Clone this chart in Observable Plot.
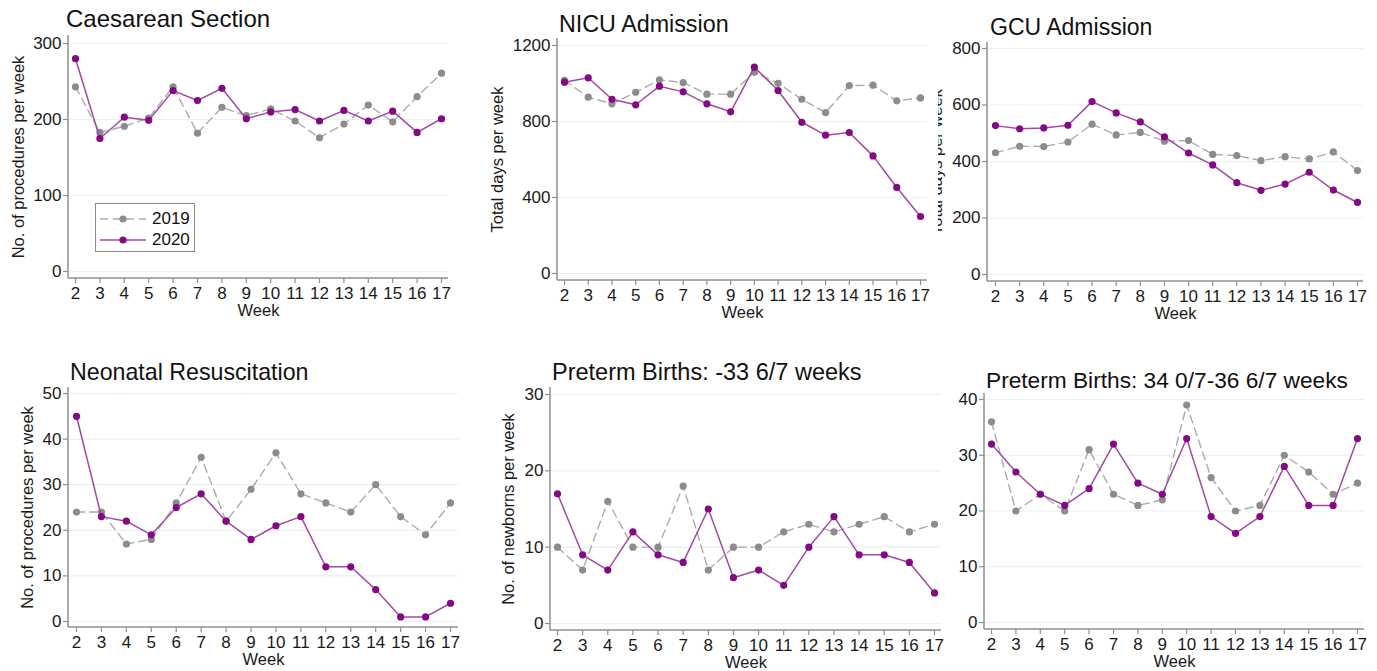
<!DOCTYPE html>
<html>
<head>
<meta charset="utf-8">
<script src="https://cdn.jsdelivr.net/npm/d3@7"></script>
<script src="https://cdn.jsdelivr.net/npm/@observablehq/plot@0.6"></script>
<style>
  html, body { margin: 0; padding: 0; background: #fff; }
  #page { position: relative; width: 1377px; height: 671px; overflow: hidden; background: #fff; font-family: "Liberation Sans", Arial, Helvetica, sans-serif; }
  .title { position: absolute; line-height: 24px; color: #111; white-space: nowrap; z-index: 5; }
  .legend { position: absolute; border: 1.5px solid #8a8a8a; background: #fff; z-index: 6; box-sizing: border-box; }
  .legend .row { position: absolute; left: 0; height: 20px; display: flex; align-items: center; font-size: 17px; color: #111; }
</style>
</head>
<body>
<div id="page"></div>
<script>
// ---------- data ----------
const weeks = [2,3,4,5,6,7,8,9,10,11,12,13,14,15,16,17];
const years = ["2019", "2020"];

const caes2019 = [243,183,191,202,243,182,216,205,214,198,176,194,219,197,230,261];
const caes2020 = [280,175,203,199,238,225,241,201,210,213,198,212,198,211,183,201];

const nicu2019 = [1017,928,893,954,1019,1005,944,944,1059,1001,917,847,989,991,909,924];
const nicu2020 = [1007,1030,917,888,986,956,893,851,1086,963,796,728,742,619,453,300];

const gcu2019 = [431,454,453,469,532,494,503,472,474,425,421,403,417,409,434,368];
const gcu2020 = [527,516,519,528,612,572,540,487,430,388,325,298,320,362,299,255];

const resus2019 = [24,24,17,18,26,36,22,29,37,28,26,24,30,23,19,26];
const resus2020 = [45,23,22,19,25,28,22,18,21,23,12,12,7,1,1,4];

const pt33_2019 = [10,7,16,10,10,18,7,10,10,12,13,12,13,14,12,13];
const pt33_2020 = [17,9,7,12,9,8,15,6,7,5,10,14,9,9,8,4];

const pt36_2019 = [36,20,23,20,31,23,21,22,39,26,20,21,30,27,23,25];
const pt36_2020 = [32,27,23,21,24,32,25,23,33,19,16,19,28,21,21,33];

const titles = ["Caesarean Section", "NICU Admission", "GCU Admission",
                "Neonatal Resuscitation", "Preterm Births: -33 6/7 weeks", "Preterm Births: 34 0/7-36 6/7 weeks"];
const yLabels = ["No. of procedures per week", "Total days per week", "Total days per week",
                 "No. of procedures per week", "No. of newborns per week", null];
const yTicks = [[0,100,200,300], [0,400,800,1200], [0,200,400,600,800],
                [0,10,20,30,40,50], [0,10,20,30], [0,10,20,30,40]];
const xLabel = "Week";

// ---------- styles ----------
const col2019Line = "#ababab", col2019Dot = "#8c8c8c";
const col2020Line = "#a24aa2", col2020Dot = "#820a82";
const axisCol = "#8f8f8f", gridCol = "#e9f1f1", textCol = "#1a1a1a";

const page = document.getElementById("page");

function panel(cfg) {
  const d19 = weeks.map((w, i) => ({week: w, v: cfg.s2019[i]}));
  const d20 = weeks.map((w, i) => ({week: w, v: cfg.s2020[i]}));
  const axisLines = (index, scales, values, dims) => {
    const g = d3.create("svg:g").attr("stroke", axisCol).attr("stroke-width", 1.5);
    g.append("line")
      .attr("x1", dims.marginLeft).attr("x2", dims.marginLeft)
      .attr("y1", dims.marginTop).attr("y2", dims.height - dims.marginBottom);
    g.append("line")
      .attr("x1", dims.marginLeft).attr("x2", dims.width - dims.marginRight)
      .attr("y1", dims.height - dims.marginBottom).attr("y2", dims.height - dims.marginBottom);
    return g.node();
  };
  const marks = [
    Plot.gridY(cfg.yticks, {stroke: gridCol, strokeOpacity: 1, strokeWidth: 1.2}),
    Plot.axisX(weeks, {tickSize: 5, tickPadding: 3, label: null, stroke: axisCol, fill: textCol, strokeWidth: 1.2,
      tickFormat: d => String(d)}),
    Plot.axisY(cfg.yticks, {tickSize: 5, tickPadding: 2, label: null, stroke: axisCol, fill: textCol, strokeWidth: 1.2,
      tickFormat: d => String(d)}),
    axisLines,
    Plot.line(d19, {x: "week", y: "v", stroke: col2019Line, strokeWidth: 1.4, strokeDasharray: "8,5"}),
    Plot.dot(d19, {x: "week", y: "v", fill: col2019Dot, r: 3.6}),
    Plot.line(d20, {x: "week", y: "v", stroke: col2020Line, strokeWidth: 1.5}),
    Plot.dot(d20, {x: "week", y: "v", fill: col2020Dot, r: 3.6}),
    Plot.text([xLabel], {text: d => d, frameAnchor: "bottom", dy: 32, fontSize: 16.5, fill: textCol, lineAnchor: "middle"})
  ];
  if (cfg.ylabel) {
    marks.push(Plot.text([cfg.ylabel], {text: d => d, frameAnchor: "left", rotate: -90, dx: cfg.ylabelDx,
      fontSize: 16.5, fill: textCol, textAnchor: "middle", lineAnchor: "middle"}));
  }
  const svg = Plot.plot({
    width: cfg.width, height: cfg.height,
    marginLeft: cfg.ml, marginRight: cfg.mr, marginTop: cfg.mt, marginBottom: cfg.mb,
    insetTop: cfg.it, insetBottom: cfg.ib, insetLeft: cfg.il, insetRight: cfg.ir,
    x: {domain: [2, 17]},
    y: {domain: [0, cfg.yticks[cfg.yticks.length - 1]]},
    style: {fontFamily: '"Liberation Sans", Arial, Helvetica, sans-serif', fontSize: "17px",
            color: textCol, background: "transparent", overflow: "hidden"},
    marks
  });
  svg.style.position = "absolute";
  svg.style.left = cfg.left + "px";
  svg.style.top = cfg.top + "px";
  svg.style.maxWidth = "none";
  page.appendChild(svg);

  const t = document.createElement("div");
  t.className = "title";
  t.textContent = cfg.title;
  t.style.fontSize = cfg.titleSize + "px";
  t.style.left = cfg.titleX + "px";
  t.style.top = cfg.titleY + "px";
  page.appendChild(t);
}

const layouts = [
  {left: 0,   top: 0,   width: 460, height: 330, ml: 68, mr: 12, mt: 35, mb: 52, it: 8, ib: 7, il: 7, ir: 7, ylabelDx: -50, titleX: 66, titleY: 7, titleSize: 24},
  {left: 470, top: 0,   width: 465, height: 330, ml: 87, mr: 8,  mt: 38, mb: 50, it: 7, ib: 7, il: 7, ir: 7, ylabelDx: -60, titleX: 559, titleY: 12, titleSize: 23.3},
  {left: 938, top: 0,   width: 439, height: 330, ml: 49, mr: 14, mt: 42, mb: 49, it: 6, ib: 7, il: 8, ir: 6, ylabelDx: -51, titleX: 990, titleY: 15, titleSize: 23},
  {left: 0,   top: 340, width: 465, height: 331, ml: 68, mr: 7,  mt: 47, mb: 44, it: 6, ib: 6, il: 8, ir: 8, ylabelDx: -41, titleX: 70, titleY: 360, titleSize: 23.2},
  {left: 470, top: 340, width: 475, height: 331, ml: 80, mr: 4,  mt: 47, mb: 41, it: 7, ib: 7, il: 7, ir: 7, ylabelDx: -42, titleX: 552, titleY: 360, titleSize: 23.5},
  {left: 946, top: 340, width: 431, height: 331, ml: 38, mr: 13, mt: 53, mb: 42, it: 6, ib: 7, il: 7, ir: 7, ylabelDx: -40, titleX: 986, titleY: 368, titleSize: 22.7}
];
const series = [[caes2019, caes2020], [nicu2019, nicu2020], [gcu2019, gcu2020],
                [resus2019, resus2020], [pt33_2019, pt33_2020], [pt36_2019, pt36_2020]];

layouts.forEach((L, i) => panel({...L, s2019: series[i][0], s2020: series[i][1],
  yticks: yTicks[i], ylabel: yLabels[i], title: titles[i]}));

// ---------- legend (panel 1) ----------
const legend = document.createElement("div");
legend.className = "legend";
Object.assign(legend.style, {left: "95px", top: "203px", width: "100px", height: "49px"});
const swatch = (year) => {
  const s = d3.create("svg").attr("width", 46).attr("height", 20).style("display", "block");
  const dashed = year === years[0];
  s.append("line").attr("x1", 0).attr("x2", 46).attr("y1", 10).attr("y2", 10)
    .attr("stroke", dashed ? col2019Line : col2020Line).attr("stroke-width", 1.5)
    .attr("stroke-dasharray", dashed ? "8,5" : null);
  s.append("circle").attr("cx", 23).attr("cy", 10).attr("r", 3.6).attr("fill", dashed ? col2019Dot : col2020Dot);
  return s.node();
};
years.forEach((y, i) => {
  const row = document.createElement("div");
  row.className = "row";
  row.style.top = (5 + i * 21) + "px";
  row.style.left = "4px";
  row.appendChild(swatch(y));
  const lab = document.createElement("span");
  lab.textContent = y;
  lab.style.marginLeft = "6px";
  row.appendChild(lab);
  legend.appendChild(row);
});
page.appendChild(legend);
</script>
</body>
</html>
